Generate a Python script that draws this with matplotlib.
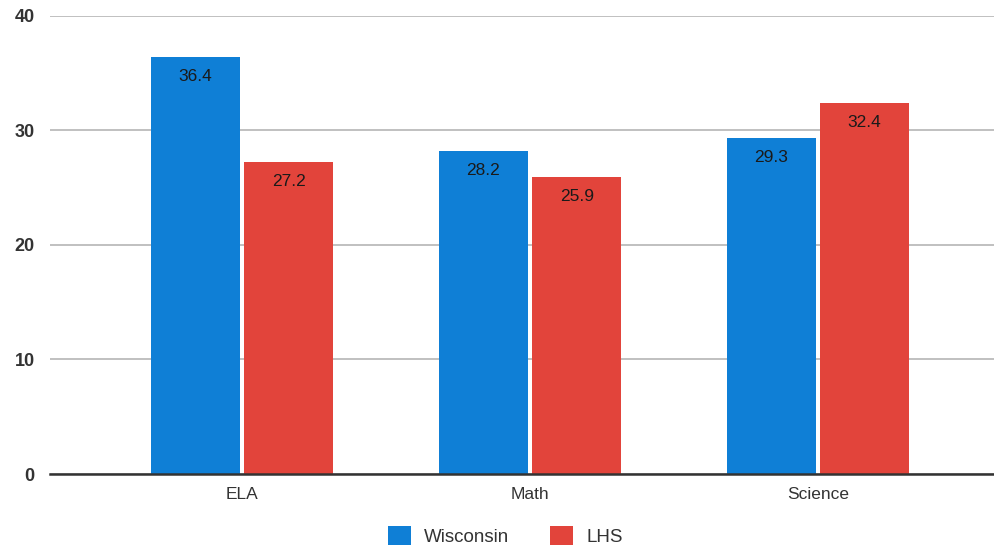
import numpy as np
import matplotlib.pyplot as plt

plt.rcParams['font.family'] = ['Liberation Sans', 'DejaVu Sans']

# Scores by subject
subjects = ['ELA', 'Math', 'Science']
wisconsin = [36.4, 28.2, 29.3]
lhs = [27.2, 25.9, 32.4]
y_ticks = [0, 10, 20, 30, 40]

BLUE = '#0f7fd6'
RED = '#e2443b'

fig = plt.figure(figsize=(9.95, 5.48), dpi=100)
ax = fig.add_axes([0.0503, 0.135, 0.9497, 0.836])

x = np.arange(len(subjects))
w = 0.31
gap = 0.007
b1 = ax.bar(x - w / 2 - gap, wisconsin, w, color=BLUE, label='Wisconsin', zorder=3)
b2 = ax.bar(x + w / 2 + gap, lhs, w, color=RED, label='LHS', zorder=3)

for bars, vals in ((b1, wisconsin), (b2, lhs)):
    for rect, v in zip(bars, vals):
        ax.annotate(f'{v:.1f}', (rect.get_x() + rect.get_width() / 2, v),
                    xytext=(0, -14), textcoords='offset points',
                    ha='center', va='center', fontsize=12.5, color='#1a1a1a', zorder=4)

ax.set_xlim(-0.667, 2.615)
ax.set_ylim(0, 40)
ax.set_yticks(y_ticks)
ax.set_yticklabels([str(t) for t in y_ticks], fontsize=13, fontweight='bold', color='#333333')
ax.set_xticks(x)
ax.set_xticklabels(subjects, fontsize=12.5, color='#333333')
ax.tick_params(axis='both', length=0)
ax.tick_params(axis='y', pad=11)
ax.tick_params(axis='x', pad=9)

ax.grid(axis='y', color='#b5b5b5', linewidth=1.2, zorder=0)
for s in ['top', 'right', 'left']:
    ax.spines[s].set_visible(False)
ax.spines['bottom'].set_color('#333333')
ax.spines['bottom'].set_linewidth(1.8)
ax.spines['bottom'].set_zorder(5)

fig.legend(handles=[b1, b2], loc='center', bbox_to_anchor=(0.508, 0.022), ncol=2,
           frameon=False, fontsize=13.5, handlelength=1.2, handleheight=1.2,
           columnspacing=2.2, handletextpad=0.7, labelcolor='#333333')

fig.savefig('out.png', dpi=100)
